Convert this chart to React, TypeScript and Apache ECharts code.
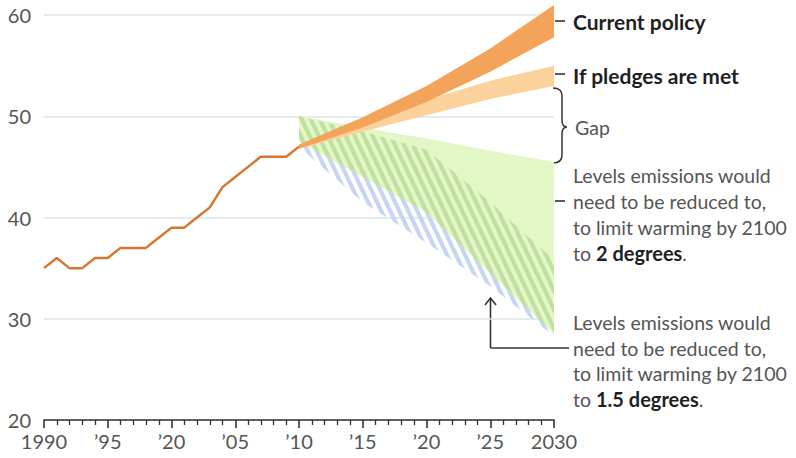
import React, { useEffect, useRef } from "react";
import * as echarts from "echarts";

// ---------- data ----------
const histYears = [1990, 1991, 1992, 1993, 1994, 1995, 1996, 1997, 1998, 1999, 2000, 2001, 2002, 2003, 2004, 2005, 2006, 2007, 2008, 2009, 2010];
const histValues = [35, 36, 35, 35, 36, 36, 37, 37, 37, 38, 39, 39, 40, 41, 43, 44, 45, 46, 46, 46, 47];

const projYears = [2010, 2015, 2020, 2025, 2030];
const currentUpper = [47.2, 49.9, 53.0, 56.7, 61.0];
const currentLower = [46.8, 48.9, 51.4, 54.4, 57.8];
const pledgesUpper = [47.2, 49.4, 51.6, 53.5, 55.0];
const pledgesLower = [46.8, 48.5, 50.1, 51.7, 53.0];
const twoDegUpper = [50, 48.9, 47.8, 46.6, 45.5];
const twoDegLower = [47.5, 44.0, 40.5, 34.5, 28.5];
const onePointFiveUpper = [50, 48.5, 46.7, 41.5, 35.8];
const onePointFiveLower = [47, 41.5, 37.5, 33.2, 28.3];

const xTickLabels: Record<number, string> = {
  1990: "1990", 1995: "\u201995", 2000: "\u201920", 2005: "\u201905", 2010: "\u201910",
  2015: "\u201915", 2020: "\u201920", 2025: "\u201925", 2030: "2030",
};

const FONT = "Lato";
const FS = 19.5;
const FS_BOLD = 21;
const TEXT_GREY = "#555";
const TEXT_DARK = "#1f1f1f";

function stripePattern(color: string) {
  const P = 9;
  const H = 19;
  const w = 4.6;
  const c = document.createElement("canvas");
  c.width = P;
  c.height = H;
  const ctx = c.getContext("2d")!;
  ctx.fillStyle = color;
  for (let k = -2; k <= 1; k++) {
    const x0 = k * P;
    ctx.beginPath();
    ctx.moveTo(x0, 0);
    ctx.lineTo(x0 + w, 0);
    ctx.lineTo(x0 + w + P, H);
    ctx.lineTo(x0 + P, H);
    ctx.closePath();
    ctx.fill();
  }
  return { image: c, repeat: "repeat", imageWidth: P, imageHeight: H } as any;
}

function band(name: string, upper: number[], lower: number[], fill: any, z: number) {
  return {
    type: "custom",
    name,
    silent: true,
    z,
    data: [[projYears[0], upper[0]]],
    renderItem: (_p: any, api: any) => {
      const pts: number[][] = projYears.map((y, i) => api.coord([y, upper[i]]));
      for (let i = projYears.length - 1; i >= 0; i--) pts.push(api.coord([projYears[i], lower[i]]));
      return { type: "polygon", shape: { points: pts }, style: { fill, stroke: null } };
    },
  };
}

const bracketPath =
  "M553 88 Q562 88 562 96 L562 120 Q562 127 567 127 Q562 127 562 134 L562 155 Q562 163 553 163";

function txt(x: number, y: number, text: string, opts: any = {}) {
  return {
    type: "text",
    x,
    y,
    silent: true,
    style: {
      text,
      fill: opts.fill || TEXT_GREY,
      fontSize: opts.fontSize || FS,
      fontFamily: FONT,
      fontWeight: opts.fontWeight || "normal",
      verticalAlign: "middle",
      align: "left",
      rich: {
        b: { fontWeight: "bold", fill: TEXT_DARK, fontSize: FS + 0.5, fontFamily: FONT },
      },
    },
  };
}

function seg(x1: number, y1: number, x2: number, y2: number, w = 1.6) {
  return { type: "line", silent: true, shape: { x1, y1, x2, y2 }, style: { stroke: "#333", lineWidth: w } };
}

export default function App() {
  const ref = useRef<HTMLDivElement>(null);
  useEffect(() => {
    if (!ref.current) return;
    echarts.graphic.registerShape("gapBracket", echarts.graphic.extendPath(bracketPath, {}));
    const chart = echarts.init(ref.current, null, { renderer: "svg" });
    const option: any = {
      animation: false,
      backgroundColor: "#fff",
      grid: { left: 44, right: 242, top: 15, bottom: 38 },
      xAxis: {
        type: "value",
        min: 1990,
        max: 2030,
        interval: 5,
        axisLine: { show: true, lineStyle: { color: "#333", width: 1.6 } },
        axisTick: { show: true, length: 8, lineStyle: { color: "#333", width: 1.6 } },
        minorTick: { show: true, splitNumber: 5, length: 5, lineStyle: { color: "#333", width: 1.3 } },
        splitLine: { show: false },
        axisLabel: {
          margin: 11,
          fontSize: 20,
          fontFamily: FONT,
          color: TEXT_GREY,
          formatter: (v: number) => xTickLabels[v] ?? "",
        },
      },
      yAxis: {
        type: "value",
        min: 20,
        max: 60,
        interval: 10,
        axisLine: { show: false },
        axisTick: { show: false },
        splitLine: { show: true, lineStyle: { color: "#d8e6ea", width: 1.5 } },
        axisLabel: { margin: 13, fontSize: 20, fontFamily: FONT, color: TEXT_GREY },
      },
      series: [
        band("2 degrees", twoDegUpper, twoDegLower, "#e3f6c6", 1),
        band("1.5 green", onePointFiveUpper, twoDegLower, stripePattern("#bfe0a0"), 2),
        band("1.5 blue", twoDegLower, onePointFiveLower, stripePattern("#c8d5f2"), 2),
        band("Pledges", pledgesUpper, pledgesLower, "#fbd29c", 3),
        band("Current", currentUpper, currentLower, "#f4a45a", 4),
        {
          type: "line",
          name: "Historical",
          z: 5,
          silent: true,
          showSymbol: false,
          data: histYears.map((y, i) => [y, histValues[i]]),
          lineStyle: { color: "#d8762f", width: 2.5 },
        },
      ],
      graphic: [
        seg(555, 21, 565, 21),
        txt(573, 21, "Current policy", { fontWeight: "bold", fill: TEXT_DARK, fontSize: FS_BOLD }),
        seg(555, 74, 565, 74),
        txt(573, 75, "If pledges are met", { fontWeight: "bold", fill: TEXT_DARK, fontSize: FS_BOLD }),
        { type: "gapBracket", x: 0, y: 0, silent: true, style: { fill: "none", stroke: "#333", lineWidth: 1.5 } },
        txt(575, 127, "Gap"),
        txt(573, 175, "Levels emissions would"),
        seg(555, 201, 565, 201),
        txt(573, 201, "need to be reduced to,"),
        txt(573, 227, "to limit warming by 2100"),
        txt(573, 253, "to {b|2 degrees}."),
        txt(573, 322, "Levels emissions would"),
        txt(573, 348, "need to be reduced to,"),
        txt(573, 373, "to limit warming by 2100"),
        txt(573, 399, "to {b|1.5 degrees}."),
        seg(490.5, 298, 490.5, 348),
        seg(490.5, 348, 569, 348),
        { type: "polyline", silent: true, shape: { points: [[485, 305], [490.5, 298], [496, 305]] }, style: { stroke: "#333", lineWidth: 1.6, fill: "none" } },
      ],
    };
    chart.setOption(option);
    return () => chart.dispose();
  }, []);
  return <div ref={ref} style={{ position: "fixed", left: 0, top: 0, width: 796, height: 458 }} />;
}
